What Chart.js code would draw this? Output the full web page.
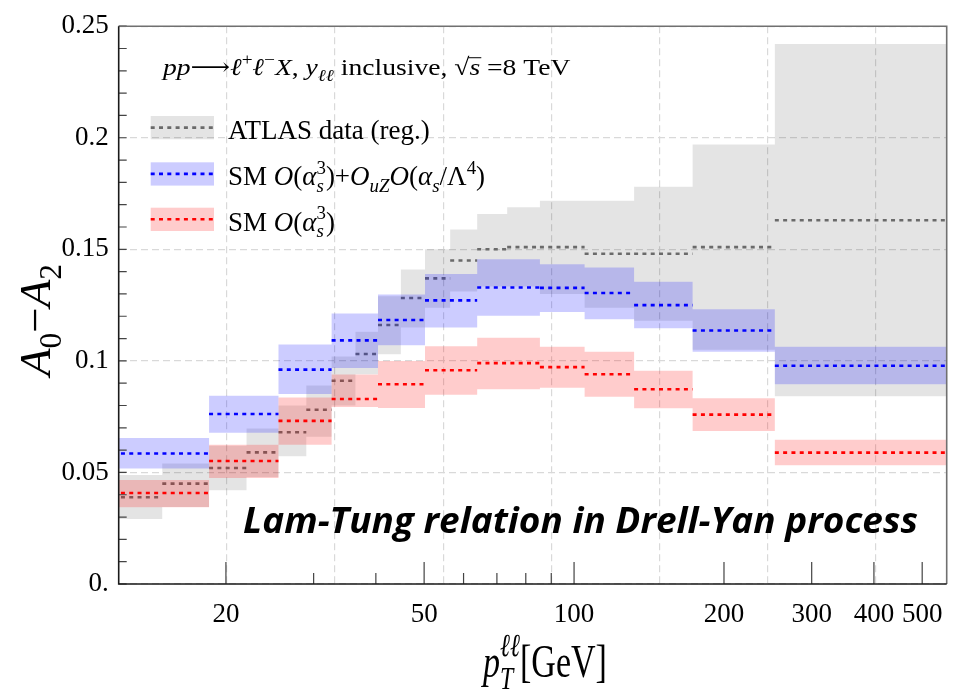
<!DOCTYPE html>
<html>
<head>
<meta charset="utf-8">
<script src="https://cdn.jsdelivr.net/npm/chart.js@4/dist/chart.umd.min.js"></script>
<style>
  html, body { margin: 0; padding: 0; background: #ffffff; }
  #wrap { width: 959px; height: 691px; position: relative; }
</style>
</head>
<body>
<div id="wrap"><canvas id="c"></canvas></div>
<script>
// ATLAS 8 TeV measurement, pT(ll) bin edges in GeV
const dataEdges = [11.4, 14.9, 18.5, 22.0, 25.5, 29.0, 32.6, 36.4, 40.4, 44.9, 50.2, 56.4, 63.9, 73.4, 85.4, 105.0, 132.0, 173.0, 253.0, 600.0];
const atlasValue = [0.0389, 0.045, 0.052, 0.059, 0.068, 0.0781, 0.0911, 0.1031, 0.1161, 0.1282, 0.137, 0.145, 0.150, 0.151, 0.151, 0.148, 0.148, 0.151, 0.163];
const atlasLow   = [0.0291, 0.0345, 0.042, 0.048, 0.0573, 0.066, 0.080, 0.094, 0.103, 0.115, 0.1238, 0.1311, 0.1333, 0.1333, 0.130, 0.1238, 0.118, 0.105, 0.0841];
const atlasHigh  = [0.0488, 0.054, 0.062, 0.0697, 0.080, 0.089, 0.102, 0.113, 0.129, 0.141, 0.150, 0.1589, 0.1658, 0.1689, 0.1718, 0.1718, 0.178, 0.197, 0.242];

// Theory predictions, coarser binning
const theoryEdges = [11.4, 18.5, 25.5, 32.6, 40.4, 50.2, 63.9, 85.4, 105.0, 132.0, 173.0, 253.0, 600.0];
const uzValue = [0.0585, 0.0762, 0.0961, 0.1092, 0.1183, 0.1271, 0.1329, 0.1327, 0.1304, 0.125, 0.1136, 0.0978];
const uzLow   = [0.0518, 0.0678, 0.0851, 0.0968, 0.107, 0.115, 0.1202, 0.1219, 0.1187, 0.1146, 0.1041, 0.0895];
const uzHigh  = [0.0654, 0.0844, 0.1073, 0.1212, 0.1297, 0.1389, 0.1455, 0.1433, 0.1418, 0.1355, 0.1231, 0.1063];
const smValue = [0.0408, 0.0551, 0.0731, 0.0829, 0.0895, 0.0958, 0.099, 0.0972, 0.094, 0.0873, 0.0759, 0.0589];
const smLow   = [0.0344, 0.0475, 0.0624, 0.0793, 0.0789, 0.0848, 0.0873, 0.088, 0.0839, 0.0788, 0.0686, 0.0532];
const smHigh  = [0.0466, 0.0624, 0.0836, 0.0939, 0.1, 0.1066, 0.1104, 0.1063, 0.1041, 0.0956, 0.0833, 0.0646];

// Axis ticks
const xTickLabels = [20, 50, 100, 200, 300, 400, 500];
const xMinorTicks = [30, 40, 60, 70, 80, 90];
const yTickLabels = ['0.', '0.05', '0.1', '0.15', '0.2', '0.25'];
const yTickValues = yTickLabels.map(parseFloat);
// vertical grid lines sit at ln(pT) = 3, 3.5, ..., 6
const xGridLn = [3, 3.5, 4, 4.5, 5, 5.5, 6];
const xGridValues = xGridLn.map(Math.exp);
const X_MIN = Math.exp(2.5), X_MAX = 560;

const SERIF = "'Liberation Serif', 'DejaVu Serif', serif";
const GRAY_BAND = 'rgba(0,0,0,0.105)';
const BLUE_BAND = 'rgba(0,0,255,0.2)';
const RED_BAND = 'rgba(255,0,0,0.2)';
const GRAY_LINE = '#6a6a6a';
const DASH = [4, 4.3];

// Step outline for a band: value attached to the left edge of each bin
function stepPoints(edges, vals) {
  const pts = vals.map((v, i) => ({ x: edges[i], y: v }));
  pts.push({ x: edges[edges.length - 1], y: vals[vals.length - 1] });
  return pts;
}
// Separate horizontal segment per bin (broken by null points)
function binSegments(edges, vals) {
  const pts = [];
  vals.forEach((v, i) => {
    pts.push({ x: edges[i], y: v }, { x: edges[i + 1], y: v }, { x: edges[i + 1], y: null });
  });
  return pts;
}

function bandUpper(edges, vals, color, order) {
  return { data: stepPoints(edges, vals), stepped: true, fill: '+1', backgroundColor: color,
           borderColor: 'transparent', borderWidth: 0, pointRadius: 0, order: order };
}
function bandLower(edges, vals, order) {
  return { data: stepPoints(edges, vals), stepped: true, fill: false,
           borderColor: 'transparent', borderWidth: 0, pointRadius: 0, order: order };
}
function centralLine(edges, vals, color, order) {
  return { data: binSegments(edges, vals), borderColor: color, borderWidth: 2.6, borderDash: DASH,
           borderCapStyle: 'butt', pointRadius: 0, spanGaps: false, fill: false, order: order, clip: 0 };
}

// Draw a run of text pieces (italic / sub / superscript) and return its width
function richText(ctx, x, y, parts, size, draw) {
  let cx = x, pend = 0;
  for (const p of parts) {
    const s = size * (p.k || 1);
    ctx.font = (p.b ? 'bold ' : '') + (p.i ? 'italic ' : '') + s + 'px ' + (p.f || SERIF);
    const w = ctx.measureText(p.t).width;
    const yy = y + (p.dy || 0) * size;
    if (draw) {
      ctx.fillText(p.t, cx + (p.dx || 0) * size, yy);
      if (p.over) {
        ctx.save();
        ctx.lineWidth = 1;
        ctx.beginPath();
        ctx.moveTo(cx - 1, yy - s * 0.72);
        ctx.lineTo(cx + w + 1, yy - s * 0.72);
        ctx.stroke();
        ctx.restore();
      }
    }
    if (p.stack) { pend = Math.max(pend, w); }
    else { cx += Math.max(pend, w) + (p.sp || 0) * size; pend = 0; }
  }
  return cx - x;
}
function drawRich(ctx, x, y, parts, size, opts) {
  opts = opts || {};
  ctx.save();
  ctx.translate(x, y);
  if (opts.rot) ctx.rotate(opts.rot);
  ctx.scale(opts.sx || 1, 1);
  ctx.fillStyle = '#000';
  ctx.strokeStyle = '#000';
  ctx.textBaseline = 'alphabetic';
  ctx.textAlign = 'left';
  let x0 = 0;
  if (opts.center) x0 = -richText(ctx, 0, 0, parts, size, false) / 2;
  richText(ctx, x0, 0, parts, size, true);
  ctx.restore();
}

const sub = 0.25, sup = -0.42;
const alphaS3 = [
  { t: 'α', i: 1 }, { t: '3', k: 0.7, dy: sup, stack: 1 }, { t: 's', i: 1, k: 0.7, dy: sub }
];
const legendItems = [
  { band: GRAY_BAND, line: GRAY_LINE, y: 116, parts: [{ t: 'ATLAS data (reg.)' }] },
  { band: BLUE_BAND, line: '#0000ff', y: 162.3, parts: [
      { t: 'SM ' }, { t: 'O', i: 1 }, { t: '(' }, ...alphaS3, { t: ')' }, { t: '+' },
      { t: 'O', i: 1 }, { t: 'uZ', i: 1, k: 0.7, dy: sub }, { t: 'O', i: 1 }, { t: '(' },
      { t: 'α', i: 1 }, { t: 's', i: 1, k: 0.7, dy: sub }, { t: '/' }, { t: 'Λ' },
      { t: '4', k: 0.7, dy: sup }, { t: ')' } ] },
  { band: RED_BAND, line: '#ff0000', y: 207.7, parts: [
      { t: 'SM ' }, { t: 'O', i: 1 }, { t: '(' }, ...alphaS3, { t: ')' } ] }
];

const decor = {
  id: 'decor',
  afterDraw(chart) {
    const { ctx, chartArea: a, scales } = chart;
    const xs = scales.x, ys = scales.y;
    ctx.save();
    // inward tick marks
    ctx.strokeStyle = '#444';
    ctx.lineWidth = 1.2;
    ctx.beginPath();
    xTickLabels.forEach(v => { const px = xs.getPixelForValue(v); ctx.moveTo(px, a.bottom); ctx.lineTo(px, a.bottom - 22); });
    xMinorTicks.forEach(v => { const px = xs.getPixelForValue(v); ctx.moveTo(px, a.bottom); ctx.lineTo(px, a.bottom - 11); });
    for (let k = 0; k <= 25; k++) { const py = ys.getPixelForValue(k / 100); ctx.moveTo(a.left, py); ctx.lineTo(a.left + 8, py); }
    ctx.stroke();
    // frame
    ctx.lineWidth = 1.6;
    ctx.strokeStyle = '#707070';
    ctx.beginPath();
    ctx.moveTo(a.left, a.top); ctx.lineTo(a.right, a.top); ctx.lineTo(a.right, a.bottom);
    ctx.stroke();
    ctx.strokeStyle = '#1a1a1a';
    ctx.beginPath();
    ctx.moveTo(a.left, a.top); ctx.lineTo(a.left, a.bottom); ctx.lineTo(a.right, a.bottom);
    ctx.stroke();

    // process label
    drawRich(ctx, 163, 75, [
      { t: 'pp', i: 1 }, { t: '⟶' }, { t: 'ℓ', i: 1 }, { t: '+', k: 0.7, dy: -0.4 },
      { t: 'ℓ', i: 1 }, { t: '−', k: 0.7, dy: -0.4 }, { t: 'X', i: 1 }, { t: ', ' },
      { t: 'y', i: 1 }, { t: 'ℓℓ', i: 1, k: 0.7, dy: 0.25 }, { t: ' inclusive, ' },
      { t: '√' }, { t: 's', i: 1, over: 1 }, { t: ' =8 TeV' }
    ], 24, { sx: 1.15 });

    // legend
    legendItems.forEach(it => {
      ctx.fillStyle = it.band;
      ctx.fillRect(150.7, it.y, 63.3, 23.3);
      ctx.strokeStyle = it.line;
      ctx.lineWidth = 2.6;
      ctx.setLineDash(DASH);
      ctx.beginPath();
      ctx.moveTo(150.7, it.y + 11.6); ctx.lineTo(214, it.y + 11.6);
      ctx.stroke();
      ctx.setLineDash([]);
      drawRich(ctx, 228, it.y + 23, it.parts, 27);
    });

    // axis titles
    drawRich(ctx, 50, 320, [
      { t: 'A', i: 1 }, { t: '0', k: 0.7, dy: 0.25 }, { t: '−' }, { t: 'A', i: 1 }, { t: '2', k: 0.7, dy: 0.25 }
    ], 45, { rot: -Math.PI / 2, center: true });
    drawRich(ctx, 545, 677, [
      { t: 'p', i: 1 }, { t: 'ℓℓ', i: 1, k: 0.7, dy: -0.45, stack: 1 }, { t: 'T', i: 1, k: 0.7, dy: 0.25 },
      { t: '[GeV]' }
    ], 46, { center: true, sx: 0.74 });

    // headline
    ctx.font = 'italic bold 35px "Open Sans", Lato, sans-serif';
    const hl = 'Lam-Tung relation in Drell-Yan process';
    const w = ctx.measureText(hl).width;
    ctx.save();
    ctx.translate(243, 533);
    ctx.scale(675 / w, 1);
    ctx.fillStyle = '#000';
    ctx.textBaseline = 'alphabetic';
    ctx.fillText(hl, 0, 0);
    ctx.restore();
    ctx.restore();
  }
};

const chart = new Chart(document.getElementById('c'), {
  type: 'line',
  data: {
    datasets: [
      bandUpper(dataEdges, atlasHigh, GRAY_BAND, 20),
      bandLower(dataEdges, atlasLow, 19),
      centralLine(dataEdges, atlasValue, GRAY_LINE, 15),
      bandUpper(theoryEdges, uzHigh, BLUE_BAND, 12),
      bandLower(theoryEdges, uzLow, 11),
      bandUpper(theoryEdges, smHigh, RED_BAND, 10),
      bandLower(theoryEdges, smLow, 9),
      centralLine(theoryEdges, uzValue, '#0000ff', 2),
      centralLine(theoryEdges, smValue, '#ff0000', 1)
    ]
  },
  options: {
    responsive: true,
    maintainAspectRatio: false,
    devicePixelRatio: 1,
    animation: false,
    parsing: true,
    layout: { padding: { top: 14, right: 12.3, left: 0, bottom: 0 } },
    plugins: { legend: { display: false }, tooltip: { enabled: false } },
    scales: {
      x: {
        type: 'logarithmic',
        min: X_MIN,
        max: X_MAX,
        afterBuildTicks: s => {
          s.ticks = [...xGridValues, ...xTickLabels, ...xMinorTicks].sort((p, q) => p - q).map(v => ({ value: v }));
        },
        afterFit: s => { s.height = 107; },
        ticks: {
          autoSkip: false, maxRotation: 0, minRotation: 0, padding: 15, color: '#000',
          font: { family: SERIF, size: 27 },
          callback: v => (xTickLabels.includes(v) ? String(v) : '')
        },
        grid: {
          drawTicks: false, lineWidth: 1.2,
          color: c => (c.tick && xGridValues.includes(c.tick.value) ? '#d9d9d9' : 'rgba(0,0,0,0)')
        },
        border: { display: false, dash: [7, 4] }
      },
      y: {
        type: 'linear',
        min: 0,
        max: 0.25,
        afterBuildTicks: s => { s.ticks = yTickValues.map(v => ({ value: v })); },
        afterFit: s => { s.width = 118.7; },
        ticks: {
          padding: 10, color: '#000', font: { family: SERIF, size: 27 },
          callback: (v, i) => yTickLabels[i]
        },
        grid: { drawTicks: false, lineWidth: 1.2, color: '#d9d9d9' },
        border: { display: false, dash: [7, 4] }
      }
    }
  },
  plugins: [decor]
});
</script>
</body>
</html>
